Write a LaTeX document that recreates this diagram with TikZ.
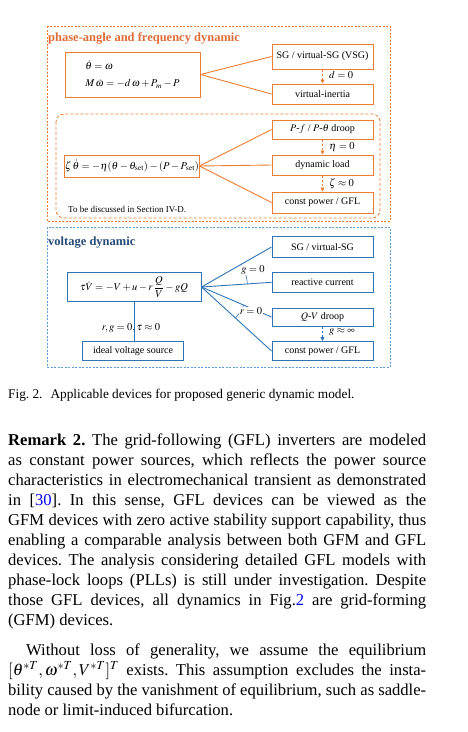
\documentclass[tikz,border=0pt]{standalone}
\usepackage{amsmath}
\usepackage{mathptmx}
\usepackage[no-math]{fontspec}
\setmainfont{Liberation Serif}
\usetikzlibrary{arrows.meta}
\definecolor{phOrange}{RGB}{237,125,49}
\definecolor{phTitle}{RGB}{224,108,56}
\definecolor{vdBlue}{RGB}{46,117,182}
\definecolor{vdFrame}{RGB}{91,155,213}
\definecolor{vdTitle}{RGB}{38,75,120}
\definecolor{refBlue}{RGB}{0,0,255}
\frenchspacing

\begin{document}
\begin{tikzpicture}[x=1pt, y=-1pt,
  dev/.style={draw=#1, line width=1pt, fill=white, minimum width=101pt, inner sep=0pt, font=\fontsize{10}{12}\selectfont},
  eqn/.style={draw=#1, line width=1pt, fill=white, inner sep=0pt, align=left, font=\fontsize{10.5}{12}\selectfont},
  link/.style={draw=#1, line width=0.9pt},
  drop/.style={draw=#1, line width=0.8pt, dash pattern=on 2.5pt off 1.5pt, -{Triangle[length=4pt,width=4pt]}},
  cond/.style={anchor=west, inner sep=1pt, font=\fontsize{10.5}{12}\selectfont},
  grp/.style={draw=#1, line width=0.9pt, dash pattern=on 2pt off 1.5pt},
  ttl/.style={text=#1, anchor=base west, inner sep=0pt, font=\fontsize{12.5}{14}\selectfont\bfseries},
  body/.style={anchor=base west, text width=418pt, align=justify, inner sep=0pt, font=\fontsize{16.6}{20}\selectfont}
]
  \useasboundingbox (0,0) rectangle (468,732);

  % phase-angle and frequency dynamic
  \draw[grp=phOrange] (47,26) rectangle (390,221);
  \node[ttl=phTitle] (phT) at (48,41) {phase-angle and frequency dynamic};
  \draw[draw=phOrange, line width=0.8pt, dash pattern=on 3pt off 2pt, rounded corners=8pt] (56,114) rectangle (380,218);

  \node[eqn=phOrange, minimum width=135pt, minimum height=45pt] (eqA) at (132.5,74.5)
    {$\dot{\theta}=\omega$\\[5pt]$M\,\dot{\omega}=-d\,\omega+P_{m}-P$};
  \node[dev=phOrange, minimum height=25pt] (sgA) at (322.5,56.5) {SG / virtual-SG (VSG)};
  \node[dev=phOrange, minimum height=20pt] (vi) at (322.5,94) {virtual-inertia};
  \draw[link=phOrange] (eqA.east) -- (sgA.west);
  \draw[link=phOrange] (eqA.east) -- (vi.west);
  \draw[drop=phOrange] (sgA) -- (vi);
  \node[cond] (dC) at (328,75) {$d=0$};

  \node[eqn=phOrange, minimum width=134pt, minimum height=22pt] (eqB) at (132,166)
    {$\zeta\,\dot{\theta}=-\eta(\theta-\theta_{\mathrm{set}})-(P-P_{\mathrm{set}})$};
  \node[dev=phOrange, minimum height=19pt] (pf) at (322.5,129.5) {$P$-$f$ / $P$-$\theta$ droop};
  \node[dev=phOrange, minimum height=20pt] (dl) at (322.5,165) {dynamic load};
  \node[dev=phOrange, minimum height=21pt] (cpA) at (322.5,202.5) {const power / GFL};
  \draw[link=phOrange] (eqB.east) -- (pf.west);
  \draw[link=phOrange] (eqB.east) -- (dl.west);
  \draw[link=phOrange] (eqB.east) -- (cpA.west);
  \draw[drop=phOrange] (pf) -- (dl);
  \draw[drop=phOrange] (dl) -- (cpA);
  \node[cond] (etaC) at (328,147) {$\eta=0$};
  \node[cond] (zetaC) at (328,184) {$\zeta\approx0$};
  \node[anchor=base west, inner sep=0pt, font=\fontsize{9}{11}\selectfont] (note) at (68,212) {To be discussed in Section IV-D.};

  % voltage dynamic
  \draw[grp=vdFrame] (47,227) rectangle (390,367);
  \node[ttl=vdTitle] (vdT) at (48,245) {voltage dynamic};

  \node[eqn=vdBlue, minimum width=134pt, minimum height=29pt] (eqC) at (134,287)
    {$\tau\dot{V}=-V+u-r\,\dfrac{Q}{V}-gQ$};
  \node[dev=vdBlue, minimum height=21pt] (sgB) at (322.5,247) {SG / virtual-SG};
  \node[dev=vdBlue, minimum height=20pt] (rc) at (322.5,282.3) {reactive current};
  \node[dev=vdBlue, minimum height=18pt] (qv) at (322.5,317) {$Q$-$V$ droop};
  \node[dev=vdBlue, minimum height=19pt] (cpB) at (322.5,351) {const power / GFL};
  \node[dev=vdBlue, minimum width=100.6pt, minimum height=19pt] (ivs) at (133,351) {ideal voltage source};
  \coordinate (vo) at (eqC.east);
  \draw[link=vdBlue] (vo) -- (sgB.west);
  \draw[link=vdBlue] (vo) -- (rc.west);
  \draw[link=vdBlue] (vo) -- (qv.west);
  \draw[link=vdBlue] (vo) -- (cpB.west);
  \draw[link=vdBlue] (eqC.south) -- (eqC.south |- ivs.north);
  \draw[drop=vdBlue] (qv) -- (cpB);
  \node[cond] (ginf) at (328,332) {$g\approx\infty$};
  \draw[link=vdBlue, line width=0.6pt] (vo) ++(-29.4:46) arc[start angle=-29.4, end angle=-3.8, radius=46];
  \draw[link=vdBlue, line width=0.6pt] (vo) ++(22.9:46) arc[start angle=22.9, end angle=42, radius=46];
  \node[fill=white, inner sep=0.5pt, font=\fontsize{10.5}{12}\selectfont] (gC) at (253,270) {$g=0$};
  \node[fill=white, inner sep=0.5pt, font=\fontsize{10.5}{12}\selectfont] (rC) at (251,311) {$r=0$};
  \node[inner sep=0pt, font=\fontsize{10.5}{12}\selectfont] (sC) at (131,328) {$r,g=0,\tau\approx0$};

  % caption and text
  \node[anchor=base west, inner sep=0pt, font=\fontsize{13.3}{16}\selectfont] (cap) at (8,398)
    {Fig. 2.\hspace{0.6em}Applicable devices for proposed generic dynamic model.};
  \node[body] (rem) at (8,445.7)
    {\textbf{Remark 2.} The grid-following (GFL) inverters are modeled\linebreak
     as constant power sources, which reflects the power source\linebreak
     characteristics in electromechanical transient as demonstrated\linebreak
     in [\textcolor{refBlue}{30}]. In this sense, GFL devices can be viewed as the\linebreak
     GFM devices with zero active stability support capability, thus\linebreak
     enabling a comparable analysis between both GFM and GFL\linebreak
     devices. The analysis considering detailed GFL models with\linebreak
     phase-lock loops (PLLs) is still under investigation. Despite\linebreak
     those GFL devices, all dynamics in Fig.\textcolor{refBlue}{2} are grid-forming\linebreak
     (GFM) devices.};
  \node[body] (eqm) at (8,655.5)
    {\hspace*{18pt}Without loss of generality, we assume the equilibrium\linebreak
     $[\theta^{*T},\omega^{*T},V^{*T}]^{T}$ exists. This assumption excludes the insta-\linebreak
     bility caused by the vanishment of equilibrium, such as saddle-\linebreak
     node or limit-induced bifurcation.};
\end{tikzpicture}
\end{document}
